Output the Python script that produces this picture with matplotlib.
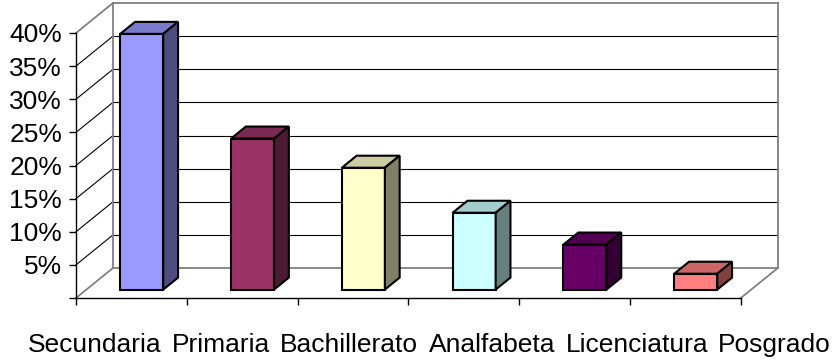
import matplotlib
matplotlib.use("Agg")
import matplotlib.pyplot as plt

# datos (porcentaje por nivel de escolaridad)
categorias = ["Secundaria", "Primaria", "Bachillerato", "Analfabeta", "Licenciatura", "Posgrado"]
valores = [38.6, 22.8, 18.4, 11.6, 6.8, 2.4]
colores = ["#9999FF", "#993366", "#FFFFCC", "#CCFFFF", "#660066", "#FF8080"]
ticks_y = [0, 5, 10, 15, 20, 25, 30, 35, 40]
etiquetas_y = ["", "5%", "10%", "15%", "20%", "25%", "30%", "35%", "40%"]

#############################################
# GEOMETRIA DEL "3D" ESTILO EXCEL
#############################################
W, H = 833, 360
PX_CAT = 110.8      # pixeles por categoria
PX_PCT = 6.625      # pixeles por 1%
DX = 37 / PX_CAT    # profundidad del piso en x (unidades de datos)
DY = 30 / PX_PCT    # profundidad del piso en y
F0, F1 = 0.28, 0.68 # frente y fondo de las barras (fraccion de la profundidad)
ANCHO = 43 / PX_CAT
YMAX = 40
GRIS = "#808080"
FUENTE = 19


def sombra(color, factor):
    r, g, b = matplotlib.colors.to_rgb(color)
    return (r * factor, g * factor, b * factor)


plt.rcParams["font.family"] = ["Liberation Sans", "DejaVu Sans"]
fig = plt.figure(figsize=(W / 100, H / 100), dpi=100)
x_izq = 76
x_der = x_izq + (len(categorias) + DX) * PX_CAT
y_base = 298
ax = fig.add_axes([x_izq / W, (H - y_base) / H,
                   (x_der - x_izq) / W, (YMAX + DY) * PX_PCT / H])
ax.set_xlim(-0.5, len(categorias) - 0.5 + DX)
ax.set_ylim(0, YMAX + DY)

# paredes y piso
x0, x1 = -0.5, len(categorias) - 0.5
for v in ticks_y:
    col = GRIS if v in (0, YMAX) else "black"
    lw = 1.3 if v in (0, YMAX) else 0.8
    ax.plot([x0 + DX, x1 + DX], [v + DY, v + DY], color=col, lw=lw, zorder=1, clip_on=False)
    ax.plot([x0, x0 + DX], [v, v + DY], color=col, lw=lw, zorder=1, clip_on=False)
ax.plot([x0 + DX, x0 + DX], [DY, YMAX + DY], color=GRIS, lw=1.3, zorder=1, clip_on=False)
ax.plot([x1 + DX, x1 + DX], [DY, YMAX + DY], color=GRIS, lw=1.3, zorder=1, clip_on=False)
ax.plot([x1, x1 + DX], [0, DY], color=GRIS, lw=1.3, zorder=1, clip_on=False)

# barras: cara frontal, tapa y lateral
pos = list(range(len(categorias)))
izq = [p - ANCHO / 2 + F0 * DX for p in pos]
base = F0 * DY
bd_x, bd_y = (F1 - F0) * DX, (F1 - F0) * DY
ax.bar(izq, valores, width=ANCHO, bottom=base, align="edge", color=colores,
       edgecolor="black", linewidth=1.5, zorder=3)
for xl, v, c in zip(izq, valores, colores):
    xr = xl + ANCHO
    top = base + v
    ax.fill([xl, xr, xr + bd_x, xl + bd_x], [top, top, top + bd_y, top + bd_y],
            facecolor=sombra(c, 0.8), edgecolor="black", linewidth=1.5, zorder=3)
    ax.fill([xr, xr + bd_x, xr + bd_x, xr], [base, base + bd_y, top + bd_y, top],
            facecolor=sombra(c, 0.5), edgecolor="black", linewidth=1.5, zorder=3)

# ejes frontales
for s in ["top", "right"]:
    ax.spines[s].set_visible(False)
ax.spines["left"].set_bounds(0, YMAX)
ax.spines["bottom"].set_bounds(x0, x1)
ax.spines["left"].set_linewidth(1.0)
ax.spines["bottom"].set_linewidth(1.0)
ax.set_yticks(ticks_y)
ax.set_yticklabels(etiquetas_y, fontsize=FUENTE)
ax.set_xticks([p - 0.5 for p in pos] + [x1])
ax.set_xticklabels([])
ax.tick_params(axis="both", direction="out", length=5, width=1.0, pad=5)
ax.patch.set_visible(False)

# etiquetas de categorias: Excel las reacomoda en una sola fila, de 28 px a 831 px
textos = [fig.text(0, 8 / H, txt, ha="left", va="baseline", fontsize=FUENTE) for txt in categorias]
renderer = fig.canvas.get_renderer()
anchos = [t.get_window_extent(renderer).width for t in textos]
hueco = (831 - 28 - sum(anchos)) / (len(textos) - 1)
x = 28
for t, a in zip(textos, anchos):
    t.set_x(x / W)
    x += a + hueco

fig.savefig("out.png", dpi=100, facecolor="white")
